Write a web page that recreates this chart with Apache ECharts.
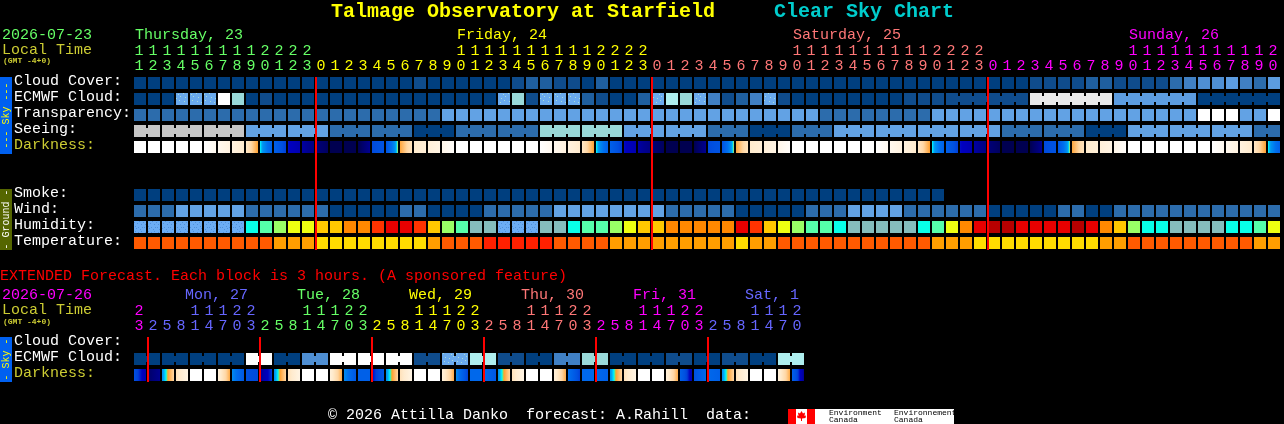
<!DOCTYPE html>
<html>
<head>
<meta charset="utf-8">
<title>Clear Sky Chart</title>
<style>html,body{margin:0;padding:0;background:#000}#c{width:1284px;height:424px}</style>
<script src="https://cdn.jsdelivr.net/npm/echarts@6/dist/echarts.min.js"></script>
</head>
<body>
<div id="c"></div>
<script>
// ---------- labels ----------
const chartTitle = 'Talmage Observatory at Starfield';
const chartSubtitle = 'Clear Sky Chart';
const startDate = '2026-07-23';
const extendedDate = '2026-07-26';
const extendedNote = 'EXTENDED Forecast. Each block is 3 hours. (A sponsored feature)';
const footerText = '\u00A9 2026 Attilla Danko  forecast: A.Rahill  data:';
const skyRows = ['Cloud Cover:', 'ECMWF Cloud:', 'Transparency:', 'Seeing:', 'Darkness:'];
const groundRows = ['Smoke:', 'Wind:', 'Humidity:', 'Temperature:'];
const extendedRows = ['Cloud Cover:', 'ECMWF Cloud:', 'Darkness:'];

// ---------- hourly axis ----------
const hours = [11,12,13,14,15,16,17,18,19,20,21,22,23,
  0,1,2,3,4,5,6,7,8,9,10,11,12,13,14,15,16,17,18,19,20,21,22,23,
  0,1,2,3,4,5,6,7,8,9,10,11,12,13,14,15,16,17,18,19,20,21,22,23,
  0,1,2,3,4,5,6,7,8,9,10,11,12,13,14,15,16,17,18,19,20];
const midnightCells = [13, 37, 61];
const dayNames = ['Thursday, 23', 'Friday, 24', 'Saturday, 25', 'Sunday, 26'];
const dayNameCells = [0, 23, 47, 71];

// ---------- 3-hourly axis ----------
const extendedHours = [23,
  2,5,8,11,14,17,20,23, 2,5,8,11,14,17,20,23, 2,5,8,11,14,17,20,23,
  2,5,8,11,14,17,20,23, 2,5,8,11,14,17,20,23, 2,5,8,11,14,17,20];
const extendedMidnightCells = [1, 9, 17, 25, 33, 41];
const extendedDayNames = ['Mon, 27', 'Tue, 28', 'Wed, 29', 'Thu, 30', 'Fri, 31', 'Sat, 1'];
const extendedDayNameCells = [3, 11, 19, 27, 35, 43];

// ---------- hourly series (levels) ----------
const cloudCover = [0,0,0,0,0,0,0,0,0,0,0,0,0,0,0,0,0,0,0,0,1,
  0,0,0,0,0,0,1,2,2,1,1,0,2,0,0,0,
  0,0,0,0,0,0,0,0,0,0,0,0,0,0,0,0,0,0,0,0,0,0,0,0,0,0,0,
  1,1,1,1,2,2,1,1,1,1,3,4,5,5,6,4,3,6];
const ecmwfCloud = [0,0,0,7,7,7,11,8,0,1,
  0,0,0,0,0,0,0,0,0,0,0,0,0,0,0,0,
  7,8,1,7,7,7,2,1,0,0,2,7,9,8,7,4,1,2,4,7,1,
  0,0,0,0,0,0,0,0,
  1,1,1,1,1,1,1,1,1,
  10,10,10,10,10,10,
  6,6,6,6,6,6,
  0,0,0,0,0,0];
const transparency = [1,1,1,1,1,1,1,1,1,1,1,1,1,1,1,1,1,1,1,1,1,1,
  2,2,2,2,2,2,2,2,2,2,2,2,2,2,2,2,2,2,2,2,2,2,2,2,2,2,2,
  1,1,1,1,1,1,1,1,
  2,2,2,2,2,2,2,2,2,2,2,2,2,2,2,2,2,2,2,
  5,5,5,2,2,5];
const seeing = [4,4,4,4,4,4,4,4, 2,2,2,2,2,2, 1,1,1,1,1,1, 0,0,0, 1,1,1,1,1,1,
  3,3,3,3,3,3, 2,2,2,2,2,2, 1,1,1, 0,0,0, 1,1,1,
  2,2,2,2,2,2,2,2,2,2,2,2, 1,1,1,1,1,1, 0,0,0,
  2,2,2,2,2,2,2,2,2, 1,1];
const darknessStart = [0,0,0,0,0,0,0.6,1.2,2.2,4.3,7,8.9,9.7,10.6,11.5,11.5,11.5,8.2,7.8,3.9,2,1.5,0.8,
  0,0,0,0,0,0,0,0.6,1.2,2.2,4.3,7,8.9,9.7,10.6,11.5,11.5,11.5,8.2,7.8,3.9,2,1.5,0.8,
  0,0,0,0,0,0,0,0.6,1.2,2.2,4.3,7,8.9,9.7,10.6,11.5,11.5,11.5,8.2,7.8,3.9,2,1.5,0.8,
  0,0,0,0,0,0,0,0.6,1.2,2.2,4.3];
const darknessEnd = [0,0,0,0,0,0.6,1.2,2,4,7,8.5,9.5,10.3,11.2,11.5,11.5,10,7.8,4.1,2.4,1.6,1,0.2,
  0,0,0,0,0,0,0.6,1.2,2,4,7,8.5,9.5,10.3,11.2,11.5,11.5,10,7.8,4.1,2.4,1.6,1,0.2,
  0,0,0,0,0,0,0.6,1.2,2,4,7,8.5,9.5,10.3,11.2,11.5,11.5,10,7.8,4.1,2.4,1.6,1,0.2,
  0,0,0,0,0,0,0.6,1.2,2,4,7];
const smoke = [0,0,0,0,0,0,0,0,0,0,0,0,0,0,0,0,0,0,0,0,0,0,0,0,0,0,0,0,0,
  0,0,0,0,0,0,0,0,0,0,0,0,0,0,0,0,0,0,0,0,0,0,0,0,0,0,0,0,0];
const wind = [1,1,1,2,2,2,2,2,1,1,1,1,1,1,0,0,0,0,0,1,1,0,0,0,0,1,1,1,1,1,
  2,2,2,2,2,2,2,2,1,1,1,1,1,0,0,0,0,0,1,1,1,2,2,2,2,1,1,1,1,1,1,
  0,0,0,0,0,1,1,0,0,1,1,1,1,1,1,1,1,1,1,1,1];
const humidity = [0,0,0,0,0,0,0,0,2,3,4,5,5,6,6,7,7,8,9,9,8,
  6,4,3,1,1,0,0,0,1,1,2,3,3,4,5,6,6,7,7,7,7,7,9,8,6,5,4,3,3,2,1,
  1,1,1,1,2,3,5,7,9,10,10,9,9,9,9,10,9,7,6,4,2,2,1,1,1,1,2,2,3,5];
const temperature = [1,1,1,1,1,1,1,1,1,1,2,2,2,3,3,3,3,3,3,3,3,
  2,1,1,1,0,0,0,0,0,1,1,1,1,2,2,2,2,2,2,2,2,2,3,2,2,1,1,1,1,1,1,
  1,1,1,1,1,2,2,2,3,3,3,3,3,3,3,3,3,2,2,1,1,1,1,1,1,1,1,1,2,2];

// ---------- 3-hourly series ----------
const extendedEcmwf = [0,0,0,0,0,0,0,0,11,11,0,0,5,5,11,11,11,11,11,11,1,1,7,7,
  9,9,1,1,0,0,4,4,8,8,0,0,0,0,1,1,0,0,1,1,0,0,9,9];
const extendedDarkStart = [8,11,5,2.5,0,0,1.5,5.2,8,10,5,2.5,0,0,1.5,5.2,7,9,5,2.5,0,0,1.5,5.2,
  6.5,6.5,5,2.5,0,0,1.5,6,6.5,6.5,5,2.5,0,0,1.5,7,8,6.5,5,2.5,0,0,1.5,7];
const extendedDarkEnd = [9.5,10,3,1,0,0,3.8,7.5,8.2,8.5,3,1,0,0,3.8,7.5,7,7.5,3,1,0,0,3.8,8.5,
  6.5,7.5,3,1,0,0,3.8,8.5,6.5,7,3,1,0,0,3.8,9.5,6.5,7,3,1,0,0,3.8,10];

// ---------- palettes ----------
const FONT = '"Liberation Mono","DejaVu Sans Mono",monospace';
const GREEN='#66ff66', YELLOW='#ffff00', SALMON='#ff7777', MAGENTA='#ff00ff', BLUE='#6666ff', OLIVE='#cccc33';
const dayColors = [GREEN, YELLOW, SALMON, MAGENTA];
const extendedDayColors = [MAGENTA, BLUE, GREEN, YELLOW, SALMON, MAGENTA, BLUE];

function speckled(base, dot, points) {
  const cv = document.createElement('canvas');
  cv.width = 13; cv.height = 13;
  const g = cv.getContext('2d');
  g.fillStyle = base; g.fillRect(0, 0, 13, 13);
  g.fillStyle = dot;
  points.forEach(p => g.fillRect(p[0], p[1], 1, 1));
  return { image: cv, repeat: 'repeat' };
}
const cloudDots = speckled('#6aaaee', '#a6dcd6', [[1,2],[5,1],[9,3],[3,6],[7,7],[11,5],[2,10],[6,11],[10,9]]);
const humDots = speckled('#6cadf5', '#4f90dc', [[0,1],[2,3],[4,1],[7,2],[9,0],[11,3],[1,6],[3,8],[5,5],[6,7],[8,6],[10,8],[12,6],[2,11],[5,10],[8,11],[11,10]]);
const cloudPalette = ['#003F7F','#0F4C8C','#1F5F9F','#2C6CAC','#4080C4','#4F8FD3','#5C9CE0',cloudDots,'#99D9D9','#AEEEEE','#E9E9E9','#FFFFFF'];
const skyPalette = ['#003F7F','#2C6CAC','#62A2E4','#99D9D9','#C6C6C6','#FFFFFF'];
const humidityPalette = [humDots,'#85BDBD','#08FFE8','#55FFAA','#99FF66','#EEFF11','#FFC800','#FF8800','#FF3300','#E80000','#B80000'];
const temperaturePalette = ['#FF2000','#FF5A00','#FF9E00','#FFDC00'];
const darkStops = [[0,[255,255,255]],[1,[255,244,228]],[2,[255,235,206]],[3,[255,215,165]],[4,[255,160,48]],
  [4.1,[240,224,32]],[4.2,[96,224,128]],[4.3,[0,255,255]],[4.8,[0,153,240]],[6,[0,112,238]],[7,[0,96,232]],[8,[0,80,224]],
  [8.5,[0,64,216]],[9,[0,0,192]],[9.5,[0,0,176]],[10,[0,0,144]],[11,[0,0,104]],[11.5,[0,0,80]]];
function darkColor(d) {
  for (let k = 1; k < darkStops.length; k++) {
    if (d <= darkStops[k][0]) {
      const a = darkStops[k-1], b = darkStops[k], t = (d - a[0]) / (b[0] - a[0]);
      return 'rgb(' + a[1].map((v, n) => Math.round(v + (b[1][n] - v) * t)).join(',') + ')';
    }
  }
  return 'rgb(0,0,80)';
}

// ---------- series builders ----------
function blocks(name, grid, row, values, palette, joined) {
  return {
    type: 'custom', name, coordinateSystem: 'cartesian2d', xAxisIndex: grid, yAxisIndex: grid,
    silent: true, animation: false,
    data: values.map((v, i) => [i, row, v]),
    renderItem(p, api) {
      const i = api.value(0), c = api.coord([i, row]);
      const x = c[0] - 6, y = c[1] - 4, fill = palette[api.value(2)];
      const kids = [{ type: 'rect', shape: { x, y, width: 12, height: 12 }, style: { fill } }];
      if (joined && i + 1 < values.length && joined(i) && values[i + 1] === values[i]) {
        kids.push({ type: 'rect', shape: { x: x + 12, y: y + 3, width: 2, height: 6 }, style: { fill } });
      }
      return { type: 'group', children: kids };
    }
  };
}
function darkBlocks(name, grid, row, starts, ends) {
  return {
    type: 'custom', name, coordinateSystem: 'cartesian2d', xAxisIndex: grid, yAxisIndex: grid,
    silent: true, animation: false,
    data: starts.map((v, i) => [i, row, v, ends[i]]),
    renderItem(p, api) {
      const c = api.coord([api.value(0), row]), a = api.value(2), b = api.value(3), stops = [];
      for (let k = 0; k <= 12; k++) stops.push({ offset: k / 12, color: darkColor(a + (b - a) * k / 12) });
      return { type: 'rect', shape: { x: c[0] - 6, y: c[1] - 4, width: 12, height: 12 },
        style: { fill: { type: 'linear', x: 0, y: 0, x2: 1, y2: 0, colorStops: stops } } };
    }
  };
}
function redLines(name, xAxis, yAxis, cells) {
  return {
    type: 'custom', name, coordinateSystem: 'cartesian2d', xAxisIndex: xAxis, yAxisIndex: yAxis,
    silent: true, animation: false, z: 10,
    data: cells.map(c => [c, 0]),
    renderItem(p, api) {
      const i = api.value(0), top = api.coord([i, 1]), bot = api.coord([i, 0]);
      return { type: 'rect', shape: { x: top[0] - 7, y: top[1], width: 2, height: bot[1] - top[1] }, style: { fill: '#ff0000' } };
    }
  };
}

// ---------- axes ----------
function colorBy(cells, colors) {
  return idx => { let d = 0; cells.forEach(c => { if (idx >= c) d++; }); return colors[d]; };
}
const hourColor = colorBy(midnightCells, dayColors);
const extColor = colorBy(extendedMidnightCells, extendedDayColors);
const noLine = { axisLine: { show: false }, axisTick: { show: false }, splitLine: { show: false } };

function digitAxis(grid, labels, color, margin, offset) {
  return Object.assign({
    type: 'category', gridIndex: grid, position: 'top', data: labels.map((s, i) => i + ':' + s), offset,
    axisLabel: { interval: 0, margin, padding: [0, 2, 0, 0], fontFamily: FONT, fontSize: 15,
      formatter: v => v.split(':')[1],
      color: (v, i) => color(i !== undefined ? i : +String(v).split(':')[0]) }
  }, noLine);
}
function nameAxis(grid, count, cells, names, color, margin, offset, pad) {
  const data = [];
  for (let i = 0; i <= count; i++) { const n = cells.indexOf(i); data.push(i + ':' + (n >= 0 ? names[n] : '')); }
  return Object.assign({
    type: 'category', gridIndex: grid, position: 'top', boundaryGap: false, data, offset,
    axisLabel: { interval: 0, margin, align: 'left', padding: [0, 0, 0, pad], fontFamily: FONT, fontSize: 15,
      formatter: v => v.split(':').slice(1).join(':'),
      color: (v, i) => color(i !== undefined ? i : +String(v).split(':')[0]) }
  }, noLine);
}
function hiddenX(grid, n) {
  return Object.assign({ type: 'category', gridIndex: grid, data: Array.from({ length: n }, (_, i) => i), axisLabel: { show: false } }, noLine);
}
function rowAxis(grid, rows) {
  return Object.assign({
    type: 'category', gridIndex: grid, inverse: true, data: rows,
    axisLabel: { interval: 0, margin: 119, align: 'left', fontFamily: FONT, fontSize: 15,
      color: v => v === 'Darkness:' ? OLIVE : '#ffffff' }
  }, noLine);
}
function overlayY(grid) {
  return Object.assign({ type: 'value', gridIndex: grid, min: 0, max: 1, axisLabel: { show: false } }, noLine);
}
const tens = h => h >= 10 ? String(Math.floor(h / 10)) : '';
const ones = h => String(h % 10);

const grids = [
  { left: 133, top: 73, width: 1148, height: 80 },   // sky rows
  { left: 133, top: 185, width: 1148, height: 64 },  // ground rows
  { left: 133, top: 333, width: 672, height: 48 },   // extended rows
  { left: 133, top: 77, width: 1148, height: 173 },  // hourly labels and midnight lines
  { left: 133, top: 337, width: 672, height: 45 }    // 3-hourly labels and midnight lines
];
const xAxes = [
  hiddenX(0, 82),                                                            // 0
  hiddenX(1, 82),                                                            // 1
  hiddenX(2, 48),                                                            // 2
  digitAxis(3, hours.map(ones), hourColor, 3, 0),                            // 3
  digitAxis(4, extendedHours.map(ones), extColor, 3, 0),                     // 4
  digitAxis(3, hours.map(tens), hourColor, 3, 15),                           // 5
  nameAxis(3, 82, dayNameCells, dayNames, hourColor, 4, 30, 2),              // 6
  digitAxis(4, extendedHours.map(tens), extColor, 3, 15),                    // 7
  nameAxis(4, 48, extendedDayNameCells, extendedDayNames, extColor, 4, 30, 10) // 8
];
const yAxes = [rowAxis(0, skyRows), rowAxis(1, groundRows), rowAxis(2, extendedRows), overlayY(3), overlayY(4)];

const seriesList = [
  blocks('Cloud Cover', 0, 0, cloudCover, cloudPalette),
  blocks('ECMWF Cloud', 0, 1, ecmwfCloud, cloudPalette, i => i >= 58),
  blocks('Transparency', 0, 2, transparency, skyPalette),
  blocks('Seeing', 0, 3, seeing, skyPalette, i => i % 3 !== 1),
  darkBlocks('Darkness', 0, 4, darknessStart, darknessEnd),
  blocks('Smoke', 1, 0, smoke, skyPalette),
  blocks('Wind', 1, 1, wind, skyPalette),
  blocks('Humidity', 1, 2, humidity, humidityPalette),
  blocks('Temperature', 1, 3, temperature, temperaturePalette),
  blocks('Extended ECMWF Cloud', 2, 1, extendedEcmwf, cloudPalette, i => i % 2 === 0),
  darkBlocks('Extended Darkness', 2, 2, extendedDarkStart, extendedDarkEnd),
  redLines('Midnight', 3, 3, midnightCells),
  redLines('Extended Midnight', 4, 4, extendedMidnightCells)
];

// ---------- page furniture ----------
function txt(text, x, y, fill, size, bold, align) {
  return { type: 'text', x, y, z: 20, silent: true,
    style: { text, fill, font: (bold ? 'bold ' : '') + size + 'px ' + FONT, align: align || 'left', verticalAlign: 'middle' } };
}
function rect(x, y, width, height, fill) {
  return { type: 'rect', silent: true, z: 15, shape: { x, y, width, height }, style: { fill } };
}
function sideBar(y, h, fill, color, text) {
  return [rect(0, y, 12, h, fill),
    { type: 'text', x: 6, y: y + h / 2, rotation: Math.PI / 2, z: 20, silent: true,
      style: { text, fill: color, font: '10px ' + FONT, align: 'center', verticalAlign: 'middle' } }];
}
const graphics = [
  txt(chartTitle, 331, 12, '#ffff00', 20, true),
  txt(chartSubtitle, 774, 12, '#00cccc', 20, true),
  txt(startDate, 2, 35, GREEN, 15),
  txt('Local Time', 2, 50, OLIVE, 15),
  txt('(GMT -4+0)', 3, 61, OLIVE, 8, true),
  txt(extendedNote, 0, 276, '#ff0000', 15),
  txt(extendedDate, 2, 295, MAGENTA, 15),
  txt('Local Time', 2, 310, OLIVE, 15),
  txt('(GMT -4+0)', 3, 322, OLIVE, 8, true),
  txt(footerText, 328, 415, '#ffffff', 15)
].concat(
  sideBar(77, 77, '#0060F0', '#ffff00', '--- Sky ---'),
  sideBar(189, 61, '#556600', '#ffffff', '- Ground -'),
  sideBar(337, 45, '#0060F0', '#ffff00', '- Sky -'),
  [
    rect(788, 409, 166, 15, '#ffffff'),
    rect(788, 409, 8, 15, '#ff0000'),
    rect(807, 409, 8, 15, '#ff0000'),
    { type: 'polygon', z: 16, silent: true,
      shape: { points: [[801.5,411],[803,413.5],[805,412.5],[804.5,416],[806,415.5],[805.5,418],[802,418.5],[802,421],[801,421],[801,418.5],[797.5,418],[797,415.5],[798.5,416],[798,412.5],[800,413.5]] },
      style: { fill: '#ff0000' } },
    txt('Environment', 829, 413, '#000000', 8),
    txt('Canada', 829, 420, '#000000', 8),
    txt('Environnement', 894, 413, '#000000', 8),
    txt('Canada', 894, 420, '#000000', 8)
  ]);

const chart = echarts.init(document.getElementById('c'), null, { renderer: 'canvas', width: 1284, height: 424 });
chart.setOption({
  backgroundColor: '#000000',
  animation: false,
  tooltip: { show: false },
  grid: grids,
  xAxis: xAxes,
  yAxis: yAxes,
  series: seriesList,
  graphic: { elements: graphics }
});
</script>
</body>
</html>
